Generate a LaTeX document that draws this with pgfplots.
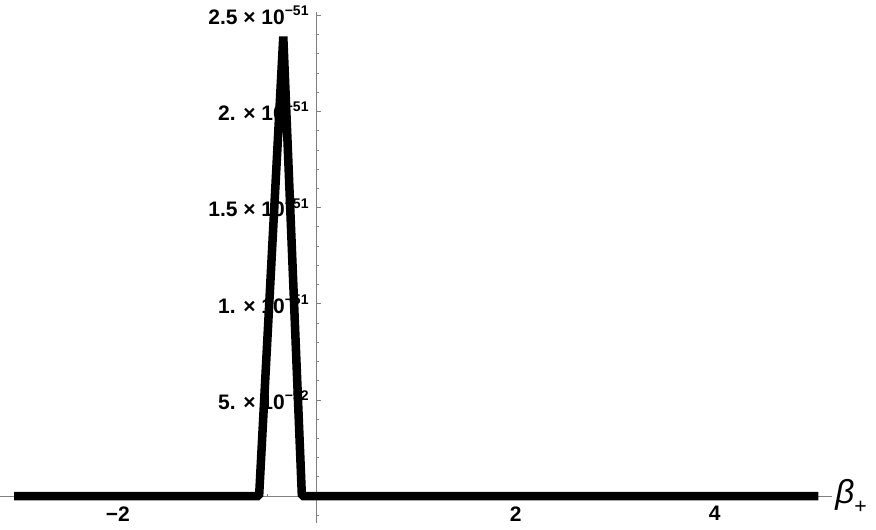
\documentclass[border=0pt]{standalone}
\usepackage{fontspec}
\setmainfont{Liberation Sans}
\usepackage{pgfplots}
\pgfplotsset{compat=1.18}
\definecolor{axgray}{gray}{0.5}
% tick labels in bold text, mantissa x 10^-exp
\newcommand{\lb}[1]{\mbox{\fontsize{15.75}{18}\selectfont\bfseries #1}}
\newcommand{\tl}[2]{\lb{#1 × 10\raisebox{0.42em}{\fontsize{10.5}{12}\selectfont −#2}}}
\begin{document}
\begin{tikzpicture}
\begin{axis}[
  scale only axis,
  width=624pt, height=383.25pt,
  xmin=-3.18, xmax=5.18,
  ymin=-0.138, ymax=2.518,
  axis lines=middle,
  axis line style={-, draw=axgray, line width=0.75pt},
  tick style={draw=axgray, line width=0.75pt},
  tick align=inside,
  major tick length=3pt,
  minor tick length=2pt,
  xtick={-2,2,4},
  xticklabels={\lb{−2},\lb{2},\lb{4}},
  minor xtick={-3,-2.5,...,5},
  ytick={0.5,1,1.5,2,2.5},
  yticklabels={\tl{5.}{52},\tl{1.}{51},\tl{1.5}{51},\tl{2.}{51},\tl{2.5}{51}},
  minor ytick={-0.1,0,...,2.5},
  yticklabel style={anchor=east, inner sep=0pt, xshift=-6pt},
  xticklabel style={anchor=north, inner sep=0pt, yshift=-7.5pt},
  clip=false,
]
\addplot[black, line width=6.4pt, line cap=rect, line join=bevel]
  coordinates {(-3,0) (-0.58,0) (-0.337,2.39) (-0.15,0) (5,0)};
\node[anchor=west, inner sep=0pt, xshift=2.25pt]
  at (axis cs:5.18,0) {\mbox{\fontsize{25}{28}\selectfont\itshape β\raisebox{-0.3em}{\upshape\fontsize{16}{18}\selectfont +}}};
\path (rel axis cs:0,0) ++(0pt,-5.25pt) (rel axis cs:1,1) ++(33pt,9pt);
\end{axis}
\end{tikzpicture}
\end{document}
